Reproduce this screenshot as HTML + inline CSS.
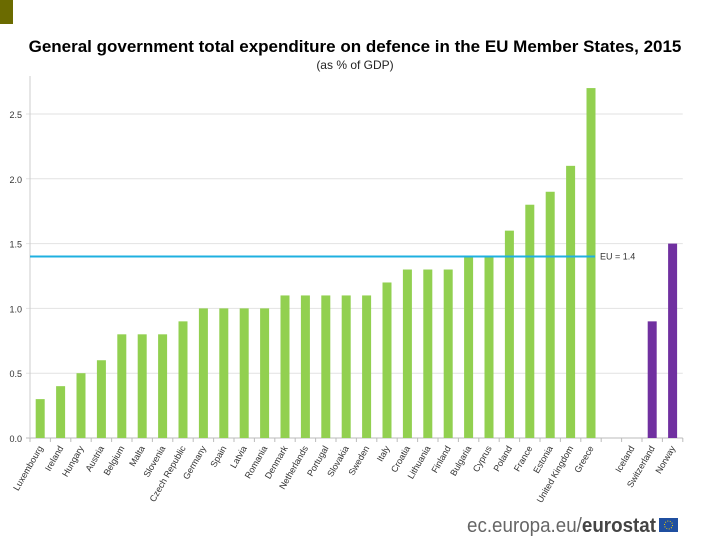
<!DOCTYPE html>
<html><head><meta charset="utf-8"><style>
body{margin:0;background:#fff;}
svg{display:block;font-family:"Liberation Sans",Arial,sans-serif;}
</style></head><body>
<svg id="chart" width="720" height="540" viewBox="0 0 720 540">
<rect x="0" y="0" width="13" height="24" fill="#6b6b00"/>
<text x="355" y="52" text-anchor="middle" font-size="17" font-weight="bold" fill="#000">General government total expenditure on defence in the EU Member States, 2015</text>
<text x="355" y="69" text-anchor="middle" font-size="12" fill="#222">(as % of GDP)</text>
<g id="grid"></g><g id="bars"></g><g id="xlabels"></g>
<text x="467" y="532" font-size="20" fill="#666" textLength="189" lengthAdjust="spacingAndGlyphs">ec.europa.eu/<tspan font-weight="bold" fill="#444">eurostat</tspan></text>
<rect x="659" y="518" width="19" height="14" fill="#1f4fa0"/>
<circle cx="668.5" cy="525" r="4" fill="none" stroke="#f5d000" stroke-width="1" stroke-dasharray="1 1.5"/>
</svg>
<script>
const categories=["Luxembourg","Ireland","Hungary","Austria","Belgium","Malta","Slovenia","Czech Republic","Germany","Spain","Latvia","Romania","Denmark","Netherlands","Portugal","Slovakia","Sweden","Italy","Croatia","Lithuania","Finland","Bulgaria","Cyprus","Poland","France","Estonia","United Kingdom","Greece","","Iceland","Switzerland","Norway"];
const values=[0.3,0.4,0.5,0.6,0.8,0.8,0.8,0.9,1.0,1.0,1.0,1.0,1.1,1.1,1.1,1.1,1.1,1.2,1.3,1.3,1.3,1.4,1.4,1.6,1.8,1.9,2.1,2.7,null,null,0.9,1.5];
const groups=["eu","eu","eu","eu","eu","eu","eu","eu","eu","eu","eu","eu","eu","eu","eu","eu","eu","eu","eu","eu","eu","eu","eu","eu","eu","eu","eu","eu","none","efta","efta","efta"];
const yTicks=[0,0.5,1.0,1.5,2.0,2.5];
const euAverage=1.4;
const NS="http://www.w3.org/2000/svg";
const X0=30,SLOT=20.4,Y0=438,K=129.6,TOP=76,RIGHT=X0+SLOT*categories.length;
const y=v=>Y0-v*K, xc=i=>X0+SLOT*(i+0.5);
function mk(t,a,p){const e=document.createElementNS(NS,t);for(const k in a)e.setAttribute(k,a[k]);p.appendChild(e);return e;}
const grid=document.getElementById('grid'),bars=document.getElementById('bars'),xl=document.getElementById('xlabels');
yTicks.forEach(v=>{
 const l=mk('line',{x1:X0-4,x2:RIGHT,y1:y(v),y2:y(v),stroke:v===0?'#bbb':'#e2e2e2','stroke-width':1},grid);
 
 
 const t=mk('text',{x:22,y:y(v)+4,'text-anchor':'end','font-size':9,fill:'#333'},grid);
 t.textContent=v.toFixed(1);
 
 
});
const ax=mk('line',{x1:X0,x2:X0,y1:TOP,y2:Y0,stroke:'#ccc'},grid);


for(let i=0;i<=categories.length;i++){
 const tk=mk('line',{x1:X0+SLOT*i,x2:X0+SLOT*i,y1:Y0,y2:Y0+4,stroke:'#bbb'},grid);
 
 
}
categories.forEach((c,i)=>{
 if(values[i]!=null){
  const r=mk('rect',{x:xc(i)-4.5,y:y(values[i]),width:9,height:values[i]*K,fill:groups[i]==='eu'?'#92d050':'#7030a0'},bars);
  
  
 }
 if(c){
  const t=mk('text',{x:xc(i)+3,y:Y0+10,'text-anchor':'end','font-size':9,fill:'#333',transform:`rotate(-60 ${xc(i)+3} ${Y0+10})`},xl);
  t.textContent=c;
  
  
 }
});
const eu=mk('line',{x1:X0,x2:xc(27)+4,y1:y(euAverage),y2:y(euAverage),stroke:'#1fb0e0','stroke-width':2},bars);


const et=mk('text',{x:xc(27)+9,y:y(euAverage)+3,'font-size':9,fill:'#333'},bars);
et.textContent='EU = '+euAverage;


</script>
</body></html>
